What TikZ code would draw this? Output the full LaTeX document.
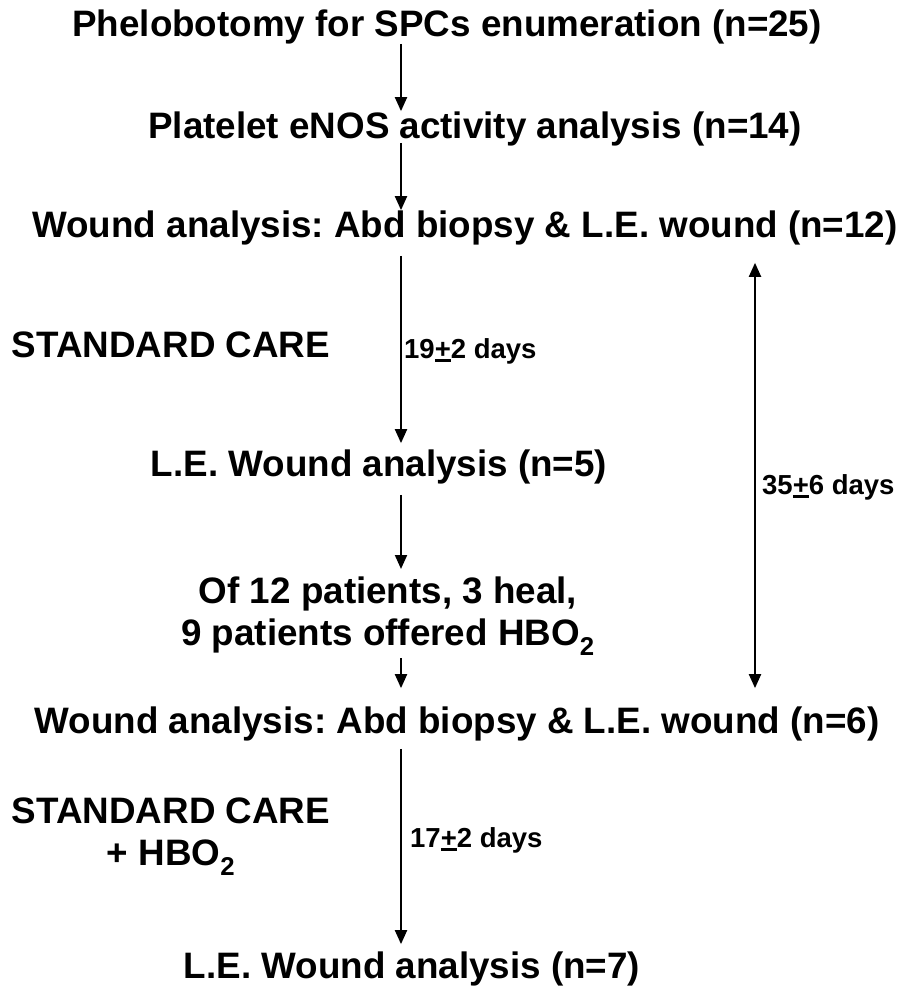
\documentclass[tikz,border=0pt]{standalone}
\usepackage{fontspec}
\setmainfont{Liberation Sans}
\usetikzlibrary{arrows.meta}
\newcommand{\plusbar}{{\setbox0\hbox{+}\rlap{\rule[-0.13em]{\wd0}{0.1em}}\box0}}
\tikzset{
  big/.style={font=\fontsize{36.8}{42}\selectfont\bfseries\frenchspacing, inner sep=0pt, align=center},
  small/.style={font=\fontsize{27.5}{32}\selectfont\bfseries\frenchspacing, inner sep=0pt},
  arr/.style={line width=2pt, -{Triangle[length=14pt,width=12pt]}},
  darr/.style={line width=2pt, {Triangle[length=14pt,width=12pt]}-{Triangle[length=14pt,width=12pt]}}
}
\begin{document}
\begin{tikzpicture}[x=1pt,y=-1pt]
\useasboundingbox (0,0) rectangle (916,988);
\coordinate (ax) at (401,0);
\coordinate (bx) at (755,0);
\node[big, anchor=base] (n1) at (447,36) {Phelobotomy for SPCs enumeration (n=25)};
\node[big, anchor=base] (n2) at (475,138) {Platelet eNOS activity analysis (n=14)};
\node[big, anchor=base] (n3) at (465,237) {Wound analysis: Abd biopsy \& L.E. wound (n=12)};
\node[big, anchor=base] (sc1) at (171,357) {STANDARD CARE};
\node[small, anchor=base west] (d1) at (404,358) {19\plusbar2 days};
\node[big, anchor=base] (n4) at (379,476) {L.E. Wound analysis (n=5)};
\node[small, anchor=base west] (d3) at (762,494) {35\plusbar6 days};
\node[big, anchor=north] (n5) at (388,577) {Of 12 patients, 3 heal,\\ 9 patients offered HBO\textsubscript{2}};
\node[big, anchor=base] (n6) at (457,733) {Wound analysis: Abd biopsy \& L.E. wound (n=6)};
\node[big, anchor=north] (sc2) at (171,798) {STANDARD CARE\\ + HBO\textsubscript{2}};
\node[small, anchor=base west] (d2) at (410,847) {17\plusbar2 days};
\node[big, anchor=base] (n7) at (412,978) {L.E. Wound analysis (n=7)};

\draw[arr] (n1.south -| ax) -- (n2.north -| ax);
\draw[arr, shorten <=-3pt] (n2.south -| ax) -- (n3.north -| ax);
\draw[arr, shorten <=11pt, shorten >=6pt] (n3.south -| ax) -- (n4.north -| ax);
\draw[arr, shorten <=11pt, shorten >=8pt] (n4.south -| ax) -- (n5.north -| ax);
\draw[arr, shorten <=3pt, shorten >=18pt] (n5.south -| ax) -- (n6.north -| ax);
\draw[arr, shorten <=8pt, shorten >=7pt] (n6.south -| ax) -- (n7.north -| ax);
\draw[darr, shorten <=18pt, shorten >=18pt] (n3.south -| bx) -- (n6.north -| bx);
\end{tikzpicture}
\end{document}
